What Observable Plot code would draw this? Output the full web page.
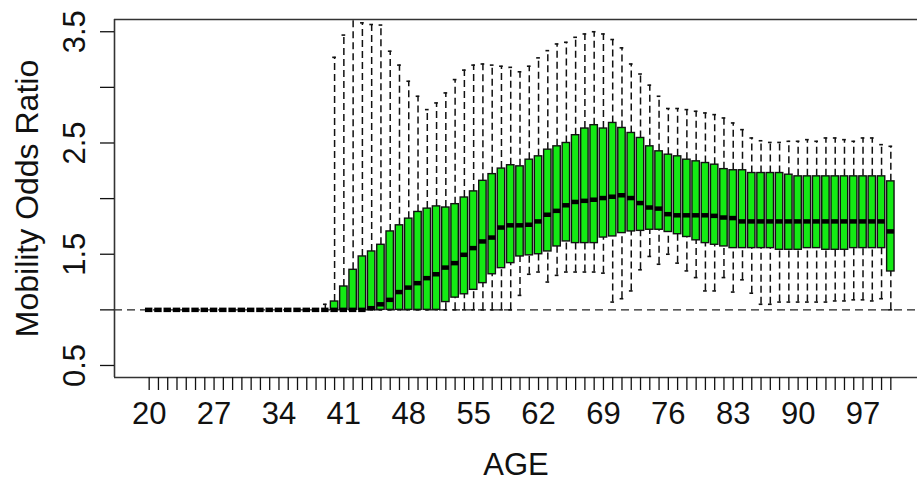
<!DOCTYPE html>
<html><head><meta charset="utf-8">
<script src="https://cdn.jsdelivr.net/npm/d3@7"></script>
<script src="https://cdn.jsdelivr.net/npm/@observablehq/plot@0.6"></script>
<style>html,body{margin:0;padding:0;overflow:hidden;background:#fff}</style>
</head><body><div id="chart"></div>
<script>
const ages = [20,21,22,23,24,25,26,27,28,29,30,31,32,33,34,35,36,37,38,39,40,41,42,43,44,45,46,47,48,49,50,51,52,53,54,55,56,57,58,59,60,61,62,63,64,65,66,67,68,69,70,71,72,73,74,75,76,77,78,79,80,81,82,83,84,85,86,87,88,89,90,91,92,93,94,95,96,97,98,99,100];
const whiskerLow = [1,1,1,1,1,1,1,1,1,1,1,1,1,1,1,1,1,1,1,1,1,1,1,1,1,1,1,1,1,1,1,1,1,1,1,1,1,1,1,1,
  1.13,1.32,1.34,1.25,1.31,1.34,1.34,1.34,1.34,1.33,1.07,1.10,1.17,1.36,1.48,1.41,1.50,1.42,1.35,1.29,1.17,1.17,1.29,1.16,1.27,1.15,1.05,1.05,1.07,1.07,1.07,1.07,1.07,1.07,1.08,1.08,1.09,1.09,1.08,1.10,1.0];
const q1 = [1,1,1,1,1,1,1,1,1,1,1,1,1,1,1,1,1,1,1,1,1,1,1,1,1,1,1,1,1,1,1,1,
  1.07,1.11,1.14,1.18,1.24,1.32,1.375,1.42,1.48,1.49,1.50,1.525,1.57,1.615,1.60,1.60,1.60,1.65,1.66,1.69,1.705,1.71,1.72,1.72,1.70,1.68,1.655,1.625,1.60,1.585,1.57,1.555,1.555,1.555,1.555,1.555,1.54,1.54,1.54,1.555,1.555,1.54,1.54,1.54,1.555,1.555,1.555,1.555,1.345];
const median = [1,1,1,1,1,1,1,1,1,1,1,1,1,1,1,1,1,1,1,1,1,1,1,1,
  1.015,1.05,1.09,1.16,1.20,1.24,1.285,1.32,1.38,1.42,1.495,1.555,1.615,1.65,1.74,1.76,1.76,1.765,1.795,1.855,1.89,1.94,1.97,1.98,1.99,2.005,2.017,2.03,2.005,1.96,1.92,1.91,1.86,1.85,1.85,1.85,1.85,1.845,1.83,1.825,
  1.795,1.795,1.795,1.795,1.795,1.795,1.795,1.795,1.795,1.795,1.795,1.795,1.795,1.795,1.795,1.795,1.705];
const q3 = [1,1,1,1,1,1,1,1,1,1,1,1,1,1,1,1,1,1,1,1,
  1.075,1.21,1.36,1.48,1.525,1.585,1.705,1.76,1.82,1.88,1.91,1.93,1.92,1.95,2.01,2.065,2.16,2.22,2.27,2.30,2.29,2.35,2.38,2.44,2.47,2.50,2.57,2.63,2.66,2.63,2.68,2.635,2.59,2.545,2.47,2.425,2.395,2.38,2.35,2.335,2.32,2.305,2.265,2.255,2.255,2.23,2.23,2.23,2.23,2.215,2.20,2.20,2.20,2.20,2.20,2.20,2.20,2.20,2.20,2.20,2.155];
const whiskerHigh = [1,1,1,1,1,1,1,1,1,1,1,1,1,1,1,1,1,1,1,
  1.05,3.27,3.47,3.70,3.58,3.565,3.56,3.325,3.20,3.055,2.92,2.80,2.86,2.95,3.07,3.155,3.20,3.21,3.20,3.19,3.18,3.14,3.19,3.265,3.33,3.39,3.405,3.45,3.48,3.50,3.48,3.43,3.355,3.21,3.12,3.02,2.92,2.81,2.81,2.80,2.785,2.77,2.755,2.725,2.68,2.62,2.545,2.52,2.505,2.505,2.515,2.515,2.53,2.515,2.545,2.545,2.53,2.515,2.545,2.545,2.485,2.47];
const xTickLabels = [20,27,34,41,48,55,62,69,76,83,90,97];
const yTicks = [0.5,1,1.5,2,2.5,3,3.5];
const yTickLabels = [0.5,1.5,2.5,3.5];
const refLine = [1];
const xDomain = [16.26, 103.74];
const yDomain = [0.392, 3.61];

const rows = ages.map((age, i) => ({age, lo: whiskerLow[i], q1: q1[i], med: median[i], q3: q3[i], hi: whiskerHigh[i]}));
const font = "'Liberation Sans', Arial, Helvetica, sans-serif";
const ink = "#111";

const chart = Plot.plot({
  width: 917, height: 482,
  marginLeft: 114, marginRight: 0, marginTop: 19, marginBottom: 105,
  style: {fontFamily: font, background: "white", color: ink},
  x: {domain: xDomain, range: [114, 925], axis: null},
  y: {domain: yDomain, axis: null},
  marks: [
    Plot.ruleY(refLine, {y: d => d, stroke: "#222", strokeWidth: 1.4, strokeDasharray: "8,5"}),
    Plot.ruleX(rows, {x: "age", y1: "q3", y2: "hi", stroke: ink, strokeWidth: 1.5, strokeDasharray: "7,4", clip: true}),
    Plot.ruleX(rows, {x: "age", y1: "lo", y2: "q1", stroke: ink, strokeWidth: 1.5, strokeDasharray: "7,4", clip: true}),
    Plot.ruleY(rows, {y: "hi", x1: d => d.age - 0.2, x2: d => d.age + 0.2, stroke: ink, strokeWidth: 1.6, clip: true}),
    Plot.ruleY(rows, {y: "lo", x1: d => d.age - 0.2, x2: d => d.age + 0.2, stroke: ink, strokeWidth: 1.6, clip: true}),
    Plot.rect(rows, {x1: d => d.age - 0.4, x2: d => d.age + 0.4, y1: "q1", y2: "q3", fill: "#14ea14", stroke: ink, strokeWidth: 1.4}),
    Plot.ruleY(rows, {y: "med", x1: d => d.age - 0.4, x2: d => d.age + 0.4, stroke: "#000", strokeWidth: 4.5}),
    Plot.ruleY([yDomain[1]], {y: d => d, stroke: "#333", strokeWidth: 1.6}),
    Plot.ruleY([yDomain[0]], {y: d => d, stroke: "#333", strokeWidth: 1.6}),
    Plot.ruleX([xDomain[0]], {x: d => d, stroke: "#333", strokeWidth: 1.6}),
    Plot.axisX({ticks: ages, tickSize: 13, tickPadding: 11, strokeWidth: 1.3, fontSize: 31, label: null,
      tickFormat: d => xTickLabels.includes(d) ? String(d) : ""}),
    Plot.axisY({ticks: yTicks, tickSize: 14, strokeWidth: 1.3, label: null, tickFormat: () => ""}),
    Plot.text(yTickLabels, {y: d => d, text: d => d.toFixed(1), frameAnchor: "left", dx: -39, rotate: -90,
      textAnchor: "middle", lineAnchor: "middle", fontSize: 31, fill: ink}),
    Plot.text(["Mobility Odds Ratio"], {text: d => d, frameAnchor: "left", dx: -87, rotate: -90,
      textAnchor: "middle", lineAnchor: "middle", fontSize: 32, fill: ink}),
    Plot.text(["AGE"], {text: d => d, frameAnchor: "bottom", dy: 88, textAnchor: "middle",
      lineAnchor: "middle", fontSize: 31, fill: ink})
  ]
});
document.getElementById("chart").appendChild(chart);
</script>
</body></html>
